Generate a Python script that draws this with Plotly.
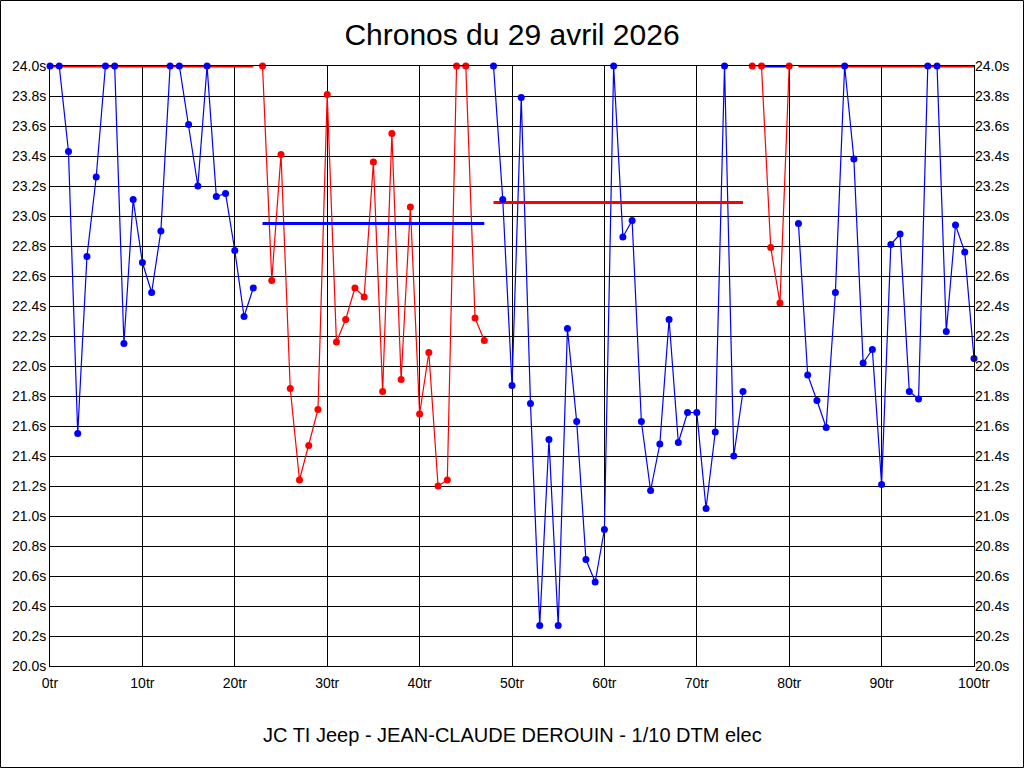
import plotly.graph_objects as go

# ---- data ----
laps = list(range(101))
times = [24.0, 24.0, 23.43, 21.55, 22.73, 23.26, 24.0, 24.0, 22.15, 23.11,
         22.69, 22.49, 22.90, 24.0, 24.0, 23.61, 23.20, 24.0, 23.13, 23.15,
         22.77, 22.33, 22.52, 24.0, 22.57, 23.41, 21.85, 21.24, 21.47, 21.71,
         23.81, 22.16, 22.31, 22.52, 22.46, 23.36, 21.83, 23.55, 21.91, 23.06,
         21.68, 22.09, 21.20, 21.24, 24.0, 24.0, 22.32, 22.17, 24.0, 23.11,
         21.87, 23.79, 21.75, 20.27, 21.51, 20.27, 22.25, 21.63, 20.71, 20.56,
         20.91, 24.0, 22.86, 22.97, 21.63, 21.17, 21.48, 22.31, 21.49, 21.69,
         21.69, 21.05, 21.56, 24.0, 21.40, 21.83, 24.0, 24.0, 22.79, 22.42,
         24.0, 22.95, 21.94, 21.77, 21.59, 22.49, 24.0, 23.38, 22.02, 22.11,
         21.21, 22.81, 22.88, 21.83, 21.78, 24.0, 24.0, 22.23, 22.94, 22.76,
         22.05]

seg_start = [0, 23, 48, 76, 81]
seg_end = [22, 47, 75, 80, 100]
seg_color = ["#0000FF", "#FF0000", "#0000FF", "#FF0000", "#0000FF"]

avg_start = [0, 23, 48, 77, 81]
avg_end = [22, 47, 75, 80, 100]
avg_value = [24.0, 22.95, 23.09, 24.0, 24.0]
avg_color = ["#FF0000", "#0000FF", "#FF0000", "#0000FF", "#FF0000"]

title_text = "Chronos du 29 avril 2026"
caption_text = "JC TI Jeep - JEAN-CLAUDE DEROUIN - 1/10 DTM elec"

# ---- layout geometry ----
W, H = 1024, 768
ML, MR, MT, MB = 50, 50, 66, 102
PW, PH = W - ML - MR, H - MT - MB

fig = go.Figure()

# data lines
for s, e, c in zip(seg_start, seg_end, seg_color):
    fig.add_trace(go.Scatter(x=laps[s:e + 1], y=times[s:e + 1], mode="lines",
                             line=dict(color=c, width=1.2), cliponaxis=False,
                             showlegend=False, hoverinfo="skip"))
# average lines
for s, e, v, c in zip(avg_start, avg_end, avg_value, avg_color):
    fig.add_trace(go.Scatter(x=[s, e], y=[v, v], mode="lines",
                             line=dict(color=c, width=3), cliponaxis=False,
                             showlegend=False, hoverinfo="skip"))
# markers
for s, e, c in zip(seg_start, seg_end, seg_color):
    fig.add_trace(go.Scatter(x=laps[s:e + 1], y=times[s:e + 1], mode="markers",
                             marker=dict(color=c, size=7, line=dict(width=0)),
                             cliponaxis=False, showlegend=False))
# invisible trace for right axis
fig.add_trace(go.Scatter(x=[0], y=[20], yaxis="y2", mode="markers",
                         marker=dict(opacity=0), showlegend=False, hoverinfo="skip"))

font_family = "Liberation Sans, Arial, sans-serif"
yticks = dict(range=[20, 24], dtick=0.2, tick0=20, tickformat=".1f", ticksuffix="s",
              tickfont=dict(family=font_family, size=14, color="black"))

fig.update_layout(
    width=W, height=H,
    margin=dict(l=ML, r=MR, t=MT, b=MB, pad=0),
    paper_bgcolor="white", plot_bgcolor="white",
    font=dict(family=font_family, color="black"),
    title=dict(text=title_text, x=0.5, xanchor="center", y=1 - 34 / H, yanchor="middle",
               font=dict(family=font_family, size=30, color="black")),
    xaxis=dict(range=[0, 100], dtick=10, tick0=0, ticksuffix="tr",
               showgrid=True, gridcolor="black", gridwidth=1,
               showline=True, linecolor="black", linewidth=1, mirror=True,
               zeroline=False, ticks="", ticklabelstandoff=4,
               tickfont=dict(family=font_family, size=14, color="black")),
    yaxis=dict(showgrid=True, gridcolor="black", gridwidth=1,
               showline=True, linecolor="black", linewidth=1, mirror=True,
               zeroline=False, ticks="", **yticks),
    yaxis2=dict(overlaying="y", side="right", showgrid=False, zeroline=False,
                showline=False, ticks="", **yticks),
    annotations=[dict(text=caption_text, xref="paper", yref="paper",
                      x=0.5, y=-(735 - MT - PH) / PH, xanchor="center", yanchor="middle",
                      showarrow=False,
                      font=dict(family=font_family, size=20, color="black"))],
    shapes=[dict(type="rect", xref="paper", yref="paper",
                 x0=(-ML + 0.5) / PW, x1=(PW + MR - 0.5) / PW,
                 y0=(-MB + 0.5) / PH, y1=(PH + MT - 0.5) / PH,
                 line=dict(color="black", width=1), layer="above")],
)

fig.write_html("out.html", config={"displayModeBar": False},
               post_script="document.body.style.margin='0';document.body.style.overflow='hidden';")
